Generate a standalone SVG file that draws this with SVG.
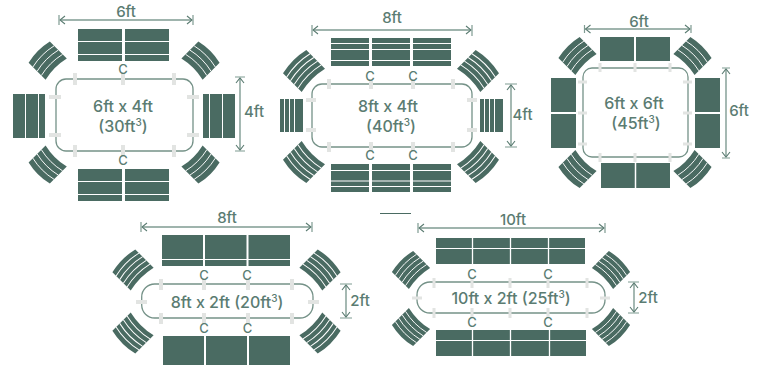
<svg xmlns="http://www.w3.org/2000/svg" width="759" height="365" viewBox="0 0 759 365">
<style>
.b{fill:#4a6b62}
.w{stroke:#fff;stroke-width:1;fill:none}
.v{stroke:#fff;stroke-width:.9;fill:none}
.t{fill:#fff;stroke:#759288;stroke-width:1.3}
.p{fill:#e2e4e2}
.d{stroke:#7f9b92;stroke-width:1.4;fill:none}
.k{stroke:#7f9b92;stroke-width:1.2;fill:none}
text{font-family:Inter,"Liberation Sans",sans-serif;fill:#5b7c72;text-anchor:middle;dominant-baseline:central;font-weight:500}
.m{font-size:16px}
.l{font-size:15px}
.c{font-size:13px}
.s{font-size:10px}
</style>
<defs>
<marker id="a" viewBox="0 0 8 10" refX="7" refY="5" markerWidth="8" markerHeight="10" markerUnits="userSpaceOnUse" orient="auto-start-reverse"><path d="M2 1L7 5L2 9" fill="none" stroke="#5b7c72" stroke-width="1.1"/></marker>
<g id="ch3"><path class="b" d="M-15-12Q0-15.500 15-12L15 12Q0 8.500-15 12Z"/><path d="M-15-6Q0-9.500 15-6M-15 0Q0-3.500 15 0M-15 6Q0 2.500 15 6" class="v"/></g>
<g id="ch4"><path class="b" d="M-15-12Q0-15.500 15-12L15 12Q0 8.500-15 12Z"/><path d="M-15-7.200Q0-10.700 15-7.200M-15-2.400Q0-5.900 15-2.400M-15 2.400Q0-1.100 15 2.400M-15 7.200Q0 3.700 15 7.200" class="v"/></g>
</defs>

<g id="table-6x4">
<use href="#ch3" transform="translate(47.7 60.7) rotate(-45)"/><use href="#ch3" transform="translate(200.5 60.7) rotate(45)"/><use href="#ch3" transform="translate(47.7 164.5) rotate(-135)"/><use href="#ch3" transform="translate(200.5 164.5) rotate(135)"/>
<rect class="b" x="78" y="29" width="91" height="32"/><path class="w" d="M78 41.5H169M78 54.5H169"/><path class="w" style="stroke-width:3" d="M123.5 29V61"/>
<rect class="b" x="78" y="169" width="91" height="32"/><path class="w" d="M78 181.5H169M78 194.5H169"/><path class="w" style="stroke-width:3" d="M123.5 169V201"/>
<rect class="b" x="13" y="94" width="32" height="44"/><path class="w" d="M25.5 94V138M38.5 94V138"/>
<rect class="b" x="203" y="94" width="32" height="44"/><path class="w" d="M209.5 94V138M222.5 94V138"/>
<rect class="t" x="56" y="79" width="137" height="72" rx="10"/>
<path class="p" d="M73 73h4v12h-4zM121 73h4v12h-4zM172 73h4v12h-4zM73 145h4v12h-4zM121 145h4v12h-4zM172 145h4v12h-4zM49 95h12v4h-12zM49 133h12v4h-12zM187 95h12v4h-12zM187 133h12v4h-12z"/>
<text class="c" x="123" y="69">C</text><text class="c" x="123" y="160">C</text>
<text class="m" x="123" y="106">6ft x 4ft</text><text class="m" x="123" y="126">(30ft<tspan class="s" dy="-4">3</tspan><tspan dy="4">)</tspan></text>
</g>

<g id="table-8x4">
<use href="#ch4" transform="translate(304 71) rotate(-45) scale(1.1)"/><use href="#ch4" transform="translate(478 71) rotate(45) scale(1.1)"/><use href="#ch4" transform="translate(304 162) rotate(-135) scale(1.1)"/><use href="#ch4" transform="translate(478 162) rotate(135) scale(1.1)"/>
<rect class="b" x="331" y="38" width="120" height="28"/><path class="w" d="M331 43.5H451M331 49.5H451M331 60.5H451"/><path class="w" style="stroke-width:3" d="M370.5 38V66M411.5 38V66"/>
<rect class="b" x="331" y="164" width="120" height="28"/><path class="w" d="M331 170.5H451M331 181H451M331 186.5H451"/><path class="w" style="stroke-width:3" d="M370.5 164V192M411.5 164V192"/>
<rect class="b" x="280" y="99" width="23" height="33"/><path class="w" d="M284.5 99V132M289.5 99V132M294.5 99V132"/>
<rect class="b" x="480" y="99" width="23" height="33"/><path class="w" d="M484.5 99V132M489.5 99V132M494.5 99V132"/>
<rect class="t" x="312" y="84" width="160" height="63" rx="10"/>
<path class="p" d="M327 79h4v10h-4zM369 79h4v10h-4zM411 79h4v10h-4zM451 79h4v10h-4zM327 142h4v10h-4zM369 142h4v10h-4zM411 142h4v10h-4zM451 142h4v10h-4zM306 98h10v4h-10zM306 128h10v4h-10zM467 98h10v4h-10zM467 128h10v4h-10z"/>
<text class="c" x="370" y="76">C</text><text class="c" x="413" y="76">C</text><text class="c" x="370" y="155">C</text><text class="c" x="413" y="155">C</text>
<text class="m" x="388" y="106">8ft x 4ft</text><text class="m" x="391" y="126">(40ft<tspan class="s" dy="-4">3</tspan><tspan dy="4">)</tspan></text>
</g>

<g id="table-6x6">
<use href="#ch3" transform="translate(577.5 56) rotate(-45)"/><use href="#ch3" transform="translate(692.5 56) rotate(45)"/><use href="#ch3" transform="translate(577.5 169) rotate(-135)"/><use href="#ch3" transform="translate(692.5 169) rotate(135)"/>
<rect class="b" x="600" y="37" width="70" height="24"/><path class="w" style="stroke-width:2" d="M635 37V61"/>
<rect class="b" x="601" y="163" width="69" height="25"/><path class="w" style="stroke-width:1.5" d="M635.5 163V188"/>
<rect class="b" x="551" y="78" width="25" height="70"/><path class="w" style="stroke-width:2" d="M551 113H576"/>
<rect class="b" x="695" y="78" width="25" height="70"/><path class="w" style="stroke-width:2" d="M695 113H720"/>
<rect class="t" x="583" y="68" width="105" height="89" rx="9"/>
<path class="p" d="M598.500 63h3v9h-3zM633.500 63h3v9h-3zM668.500 63h3v9h-3zM598.500 153h3v9h-3zM633.500 153h3v9h-3zM668.500 153h3v9h-3zM578 80.500h9v3h-9zM578 111.500h9v3h-9zM578 142.500h9v3h-9zM683 80.500h9v3h-9zM683 111.500h9v3h-9zM683 142.500h9v3h-9z"/>
<text class="m" x="634" y="103">6ft x 6ft</text><text class="m" x="636" y="123">(45ft<tspan class="s" dy="-4">3</tspan><tspan dy="4">)</tspan></text>
</g>

<g id="table-8x2">
<use href="#ch4" transform="translate(133 270) rotate(-45) scale(1.08)"/><use href="#ch4" transform="translate(320 270) rotate(45) scale(1.08)"/><use href="#ch4" transform="translate(133 333) rotate(-135) scale(1.08)"/><use href="#ch4" transform="translate(320 333) rotate(135) scale(1.08)"/>
<rect class="b" x="162" y="235" width="128" height="31"/><path class="w" d="M162 259.500H290"/><path class="w" style="stroke-width:2" d="M204 235V266M247.500 235V266"/>
<rect class="b" x="163" y="336" width="127" height="29"/><path class="w" style="stroke-width:2" d="M205 336V365M248 336V365"/>
<rect class="t" x="141.700" y="284" width="171.300" height="34" rx="13"/>
<path class="p" d="M159 279h4v11h-4zM202 279h4v11h-4zM246 279h4v11h-4zM290 279h4v11h-4zM159 313h4v11h-4zM202 313h4v11h-4zM246 313h4v11h-4zM290 313h4v11h-4zM136 300h11v4h-11zM308 300h11v4h-11z"/>
<text class="c" x="204" y="275">C</text><text class="c" x="247" y="275">C</text><text class="c" x="204" y="327.500">C</text><text class="c" x="247.500" y="327.500">C</text>
<text class="m" x="227" y="301.500">8ft x 2ft (20ft<tspan class="s" dy="-4">3</tspan><tspan dy="4">)</tspan></text>
</g>

<g id="table-10x2">
<use href="#ch4" transform="translate(411 270) rotate(-45)"/><use href="#ch4" transform="translate(611 270) rotate(45)"/><use href="#ch4" transform="translate(411 327) rotate(-135)"/><use href="#ch4" transform="translate(611 327) rotate(135)"/>
<rect class="b" x="436" y="238" width="149" height="26"/><path class="w" d="M436 248.500H585"/><path class="w" style="stroke-width:1.300" d="M472.500 238V264M510.500 238V264M548.500 238V264"/>
<rect class="b" x="436" y="330" width="150" height="26"/><path class="w" d="M436 340.500H586"/><path class="w" style="stroke-width:1.300" d="M472.500 330V356M510.500 330V356M549.500 330V356"/>
<rect class="t" x="417" y="282" width="188" height="31" rx="13"/>
<path class="p" d="M432.500 278h3v10h-3zM470.500 278h3v10h-3zM508.500 278h3v10h-3zM546.500 278h3v10h-3zM585.500 278h3v10h-3zM432.500 308h3v10h-3zM470.500 308h3v10h-3zM508.500 308h3v10h-3zM546.500 308h3v10h-3zM585.500 308h3v10h-3zM412 296.500h10v3h-10zM600 296.500h10v3h-10z"/>
<text class="c" x="472" y="274">C</text><text class="c" x="548" y="274">C</text><text class="c" x="472" y="322">C</text><text class="c" x="548" y="322">C</text>
<text class="m" x="511" y="298">10ft x 2ft (25ft<tspan class="s" dy="-4">3</tspan><tspan dy="4">)</tspan></text>
</g>

<g id="connectors">
<path class="d" d="M60 20H192" marker-start="url(#a)" marker-end="url(#a)"/><path class="k" d="M59 15V25M193 15V25"/>
<path class="d" d="M240 78V150" marker-start="url(#a)" marker-end="url(#a)"/><path class="k" d="M235 77H245M235 151H245"/>
<path class="d" d="M313 30H471" marker-start="url(#a)" marker-end="url(#a)"/><path class="k" d="M312 25V36M472 25V36"/>
<path class="d" d="M511 85V146" marker-start="url(#a)" marker-end="url(#a)"/><path class="k" d="M505 84H517M505 147H517"/>
<path class="d" d="M585.500 29H690" marker-start="url(#a)" marker-end="url(#a)"/><path class="k" d="M584.500 25V33M691 25V33"/>
<path class="d" d="M726 69V157" marker-start="url(#a)" marker-end="url(#a)"/><path class="k" d="M722 68H730M722 158H730"/>
<path class="d" d="M142 227H311" marker-start="url(#a)" marker-end="url(#a)"/><path class="k" d="M141 222V232M312 222V232"/>
<path class="d" d="M346 285V317" marker-start="url(#a)" marker-end="url(#a)"/><path class="k" d="M340 284H352M340 318H352"/>
<path class="d" d="M419 228H604" marker-start="url(#a)" marker-end="url(#a)"/><path class="k" d="M418 223V233M605 223V233"/>
<path class="d" d="M634 283V312" marker-start="url(#a)" marker-end="url(#a)"/><path class="k" d="M628 282H639M628 313H639"/>
<path d="M380 213.500H411" stroke="#4a6b62" fill="none"/>
<text class="l" x="126" y="11">6ft</text><text class="l" x="254" y="111">4ft</text>
<text class="l" x="392" y="17">8ft</text><text class="l" x="522.500" y="114">4ft</text>
<text class="l" x="639" y="21">6ft</text><text class="l" x="739" y="110">6ft</text>
<text class="l" x="227" y="217">8ft</text><text class="l" x="360" y="300.500">2ft</text>
<text class="l" x="513" y="219">10ft</text><text class="l" x="648" y="297">2ft</text>
</g>
</svg>
